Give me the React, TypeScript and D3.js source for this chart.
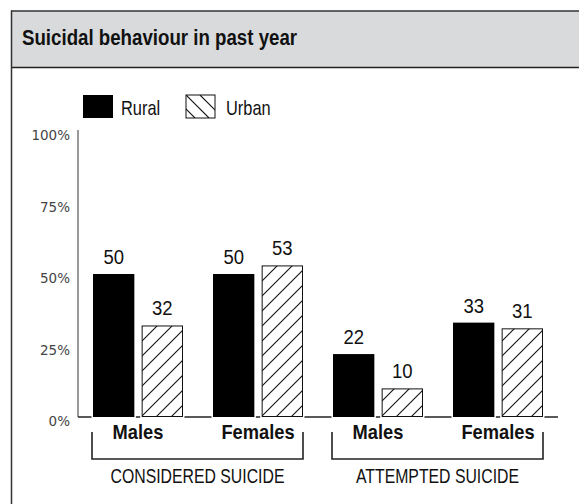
import React from "react";
import * as d3 from "d3";

const categories = ["Males", "Females", "Males", "Females"];
const groups = ["CONSIDERED SUICIDE", "ATTEMPTED SUICIDE"];
const groupOf = [0, 0, 1, 1];
const seriesNames = ["Rural", "Urban"];
const rural = [50, 50, 22, 33];
const urban = [32, 53, 10, 31];
const yTicks = [0, 25, 50, 75, 100];
const title = "Suicidal behaviour in past year";

const SANS = "'Liberation Sans', Arial, sans-serif";

function NText(props: {
  x: number; y: number; size: number; bold?: boolean; anchor?: string; sx?: number; children: React.ReactNode;
}) {
  const { x, y, size, bold, anchor, sx = 0.82, children } = props;
  return (
    <text transform={`translate(${x},${y}) scale(${sx},1)`} textAnchor={anchor || "start"}
      fontFamily={SANS} fontWeight={bold ? "bold" : "normal"} fontSize={size} fill="#111">
      {children}
    </text>
  );
}

export default function App() {
  const W = 579, H = 504;
  const x0 = 78, x1 = 558;
  const y = d3.scaleLinear().domain([0, 100]).range([417, 131]);
  const xBand = d3.scaleBand<number>().domain(d3.range(categories.length)).range([x0, x1]);
  const xInner = d3.scaleBand<string>().domain(seriesNames).range([15, 105]).paddingInner(0.15);
  const bw = xInner.bandwidth();
  const values = [rural, urban];

  return (
    <svg width={W} height={H} style={{ position: "absolute", left: 0, top: 0, background: "#fff" }}>
      <defs>
        <pattern id="hatch" patternUnits="userSpaceOnUse" width="15" height="15">
          <rect width="15" height="15" fill="#fff" />
          <path d="M-2,17 L17,-2 M-2,2 L2,-2 M13,17 L17,13" stroke="#111" strokeWidth="1.1" />
        </pattern>
        <clipPath id="legclip">
          <rect x={186} y={95} width={29} height={23} />
        </clipPath>
      </defs>
      {/* header */}
      <rect x={11} y={11} width={W} height={56} fill="#d9dadc" />
      <line x1={11} x2={W} y1={11} y2={11} stroke="#333" strokeWidth={1.5} />
      <line x1={11} x2={W} y1={67.5} y2={67.5} stroke="#222" strokeWidth={1.5} />
      <line x1={11.5} x2={11.5} y1={10.5} y2={H} stroke="#333" strokeWidth={1.5} />
      <NText x={22} y={45} size={22.8} bold>{title}</NText>

      {/* legend */}
      <rect x={83} y={95} width={30} height={23} fill="#000" />
      <NText x={121} y={115} size={20}>{seriesNames[0]}</NText>
      <rect x={186} y={95} width={29} height={23} fill="#fff" stroke="#111" strokeWidth={1} />
      <g clipPath="url(#legclip)" stroke="#111" strokeWidth={1.1}>
        {[-14, 0, 14].map((o) => (
          <line key={o} x1={186 + o} y1={95} x2={186 + o + 23} y2={118} />
        ))}
      </g>
      <NText x={226} y={115} size={20}>{seriesNames[1]}</NText>

      {/* y axis */}
      <line x1={x0} x2={x0} y1={y(100) - 1} y2={y(0)} stroke="#555" strokeWidth={1.2} />
      {yTicks.map((t) => (
        <text key={t} x={70} y={y(t) + 4} textAnchor="end" dominantBaseline="central"
          fontFamily="'DejaVu Sans', sans-serif" fontSize={13.5} fill="#444">{t}%</text>
      ))}

      {/* baseline */}
      <line x1={x0} x2={x1} y1={y(0)} y2={y(0)} stroke="#222" strokeWidth={1.5} />

      {/* bars */}
      {categories.map((c, i) => (
        <g key={i} transform={`translate(${xBand(i)},0)`}>
          {seriesNames.map((s, si) => {
            const v = values[si][i];
            const bx = xInner(s)!;
            const top = y(v);
            return (
              <g key={s}>
                <rect x={bx - 1.5} y={top - 1.5} width={bw + 3} height={y(0) - top + 3} fill="#fff" />
                {si === 0 ? (
                  <rect x={bx} y={top} width={bw} height={y(0) - top} fill="#000" />
                ) : (
                  <rect x={bx + 0.5} y={top + 0.5} width={bw - 1} height={y(0) - top - 1}
                    fill="url(#hatch)" stroke="#111" strokeWidth={1} />
                )}
                <NText x={bx + bw / 2} y={top - 10} size={19.5} anchor="middle" sx={0.95}>{v}</NText>
              </g>
            );
          })}
          <NText x={xBand.bandwidth() / 2} y={439} size={21} bold anchor="middle" sx={0.87}>{c}</NText>
        </g>
      ))}

      {/* group brackets */}
      {groups.map((g, gi) => {
        const idx = d3.range(categories.length).filter((i) => groupOf[i] === gi);
        const left = xBand(idx[0])! + 14;
        const right = xBand(idx[idx.length - 1])! + xBand.bandwidth() - 15;
        return (
          <g key={g}>
            <path d={`M${left},432 V459 H${right} V432`} fill="none" stroke="#222" strokeWidth={1.6} />
            <NText x={(left + right) / 2} y={483} size={19.3} anchor="middle">{g}</NText>
          </g>
        );
      })}
    </svg>
  );
}
